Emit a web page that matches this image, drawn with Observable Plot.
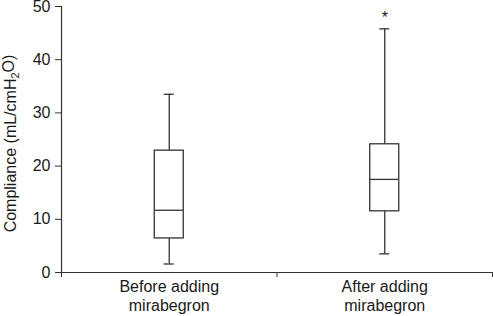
<!DOCTYPE html>
<html><head><meta charset="utf-8">
<script src="https://cdn.jsdelivr.net/npm/d3@7"></script>
<script src="https://cdn.jsdelivr.net/npm/@observablehq/plot@0.6"></script>
<style>body{margin:0;background:#fff} svg{display:block;overflow:visible}</style>
</head><body><div id="chart"></div>
<script>
// Data
const categories = ["Before adding\nmirabegron", "After adding\nmirabegron"];
const whiskerLow  = [1.6, 3.5];
const quartile1   = [6.4, 11.5];
const medians     = [11.7, 17.5];
const quartile3   = [22.9, 24.1];
const whiskerHigh = [33.5, 45.8];
const markers     = ["", "*"];
const markerValue = [null, 48.6];
const yTicks = [0, 10, 20, 30, 40, 50];
const yLabel = "Compliance (mL/cmH2O)";

const rows = categories.map((c, i) => ({
  pos: i + 0.5, label: c,
  lo: whiskerLow[i], q1: quartile1[i], med: medians[i], q3: quartile3[i], hi: whiskerHigh[i],
  mark: markers[i], markY: markerValue[i]
}));
const boundaries = d3.range(categories.length + 1);
const ink = "#333";
const txt = "#1a1a1a";

const chart = Plot.plot({
  width: 493, height: 316,
  marginLeft: 61, marginRight: 1, marginTop: 6, marginBottom: 44,
  style: {fontFamily: "'Liberation Sans', Arial, sans-serif", fontSize: "16px", color: txt, background: "#fff", overflow: "visible"},
  x: {domain: [0, categories.length], axis: null},
  y: {domain: [0, 50], axis: null},
  marks: [
    Plot.axisY({ticks: yTicks, tickSize: 6, tickPadding: 5, label: null, stroke: ink, fontSize: 16, fill: txt}),
    Plot.axisX({ticks: boundaries, tickSize: 5, tickFormat: () => "", label: null, stroke: ink}),
    Plot.ruleX([0], {stroke: ink, strokeWidth: 1.2}),
    Plot.ruleY([0], {stroke: ink, strokeWidth: 1.2}),
    Plot.ruleX(rows, {x: "pos", y1: "lo", y2: "q1", stroke: ink, strokeWidth: 1.3}),
    Plot.ruleX(rows, {x: "pos", y1: "q3", y2: "hi", stroke: ink, strokeWidth: 1.3}),
    Plot.ruleY(rows, {x1: "pos", x2: "pos", y: "lo", insetLeft: -5, insetRight: -5, stroke: ink, strokeWidth: 1.3}),
    Plot.ruleY(rows, {x1: "pos", x2: "pos", y: "hi", insetLeft: -5, insetRight: -5, stroke: ink, strokeWidth: 1.3}),
    Plot.rect(rows, {x1: "pos", x2: "pos", y1: "q1", y2: "q3", insetLeft: -14.5, insetRight: -14.5, fill: "white", stroke: ink, strokeWidth: 1.3}),
    Plot.ruleY(rows, {x1: "pos", x2: "pos", y: "med", insetLeft: -14.5, insetRight: -14.5, stroke: ink, strokeWidth: 1.3}),
    Plot.text(rows, {x: "pos", y: 0, text: "label", lineAnchor: "top", dy: 6, lineHeight: 1.2, fontSize: 16, fill: txt}),
    Plot.text(rows.filter(d => d.mark), {x: "pos", y: "markY", text: "mark", dy: 4, fontSize: 16, fill: txt}),
    Plot.text([yLabel], {text: d => d, frameAnchor: "left", textAnchor: "middle", rotate: -90, dx: -51, dy: 4, fontSize: 16, fill: txt})
  ]
});
document.getElementById("chart").appendChild(chart);

// subscript the "2" in H2O
for (const t of chart.querySelectorAll("text")) {
  if (t.textContent === yLabel) {
    const ns = "http://www.w3.org/2000/svg";
    t.textContent = "";
    const a = document.createElementNS(ns, "tspan"); a.textContent = "Compliance (mL/cmH";
    const b = document.createElementNS(ns, "tspan"); b.textContent = "2"; b.setAttribute("dy", "0.3em"); b.setAttribute("font-size", "11");
    const c = document.createElementNS(ns, "tspan"); c.textContent = "O)"; c.setAttribute("dy", "-0.3em");
    t.append(a, b, c);
  }
}
</script></body></html>
